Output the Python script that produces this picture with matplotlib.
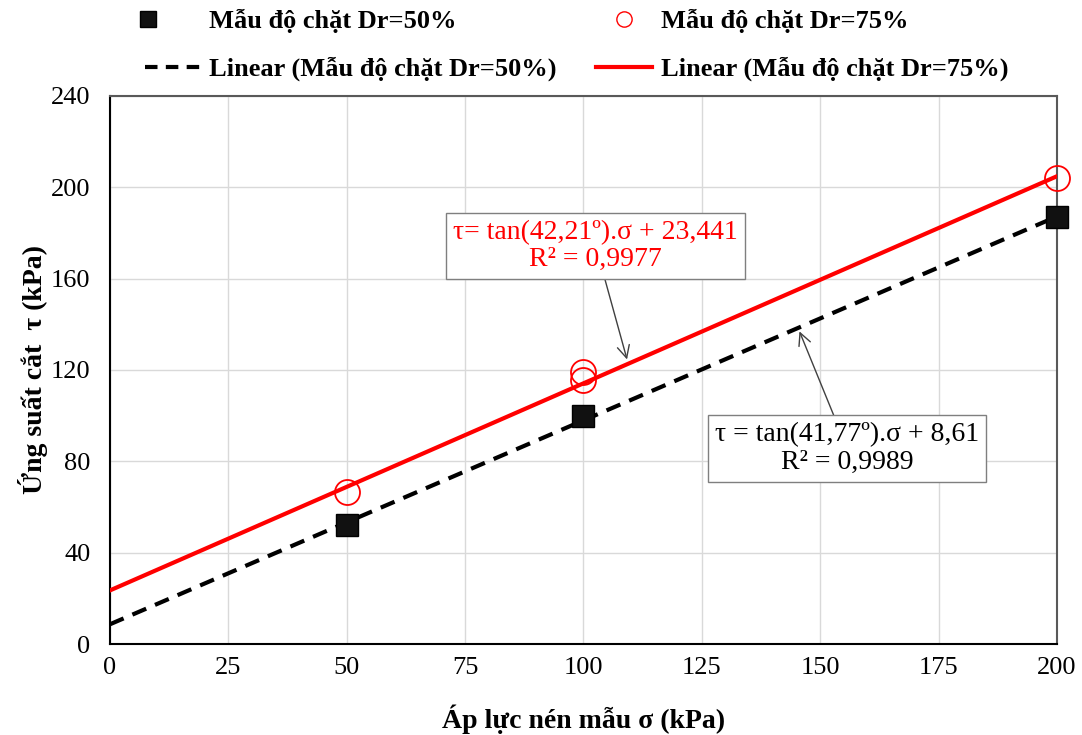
import numpy as np
import matplotlib
matplotlib.use("Agg")
import matplotlib.pyplot as plt
from matplotlib.lines import Line2D
from matplotlib.legend_handler import HandlerLine2D

plt.rcParams['font.family'] = ['Liberation Serif', 'DejaVu Serif']

# measured points
sigma_50 = [50, 100, 200]
tau_50 = [52, 100, 187]
sigma_75 = [50, 100, 100, 200]
tau_75 = [66.5, 119, 115.5, 204]

# trend lines (angle in degrees, intercept)
fit_50 = (41.77, 8.61)
fit_75 = (42.21, 23.441)

x_ticks = [0, 25, 50, 75, 100, 125, 150, 175, 200]
y_ticks = [0, 40, 80, 120, 160, 200, 240]


# legend marker sitting at the left end of the handle box (like Excel does it)
# with numpoints=1 matplotlib puts the marker in the middle of xdata
class LeftMarker(HandlerLine2D):
    def get_xdata(self, legend, xdescent, ydescent, width, height, fontsize):
        xdata = np.array([-xdescent, -xdescent + 0.12 * width])
        return xdata, xdata


fig = plt.figure(figsize=(10.82, 7.35), dpi=100)
ax = fig.add_axes([0.1015, 0.1238, 0.8755, 0.7457])

xs = np.array([0, 200])
ax.plot(xs, np.tan(np.radians(fit_50[0])) * xs + fit_50[1], color='black',
        lw=3, ls=(0, (3.6, 2.3)), zorder=3)
ax.plot(xs, np.tan(np.radians(fit_75[0])) * xs + fit_75[1], color='#ff0000',
        lw=3, zorder=3)
ax.plot(sigma_50, tau_50, ls='none', marker='s', ms=16, mfc='#111111',
        mec='black', zorder=4, clip_on=False)
ax.plot(sigma_75, tau_75, ls='none', marker='o', ms=18, mfc='none',
        mec='#ff0000', mew=1.3, zorder=4, clip_on=False)

ax.set_xlim(0, 200)
ax.set_ylim(0, 240)
ax.set_xticks(x_ticks)
ax.set_yticks(y_ticks)
ax.tick_params(axis='both', labelsize=19, length=0)
ax.tick_params(axis='x', pad=9)
ax.tick_params(axis='y', pad=14)
ax.grid(True, color='#d9d9d9', lw=1)
ax.set_axisbelow(True)
for s in ['top', 'right']:
    ax.spines[s].set_color('#595959')
    ax.spines[s].set_linewidth(1.5)
for s in ['left', 'bottom']:
    ax.spines[s].set_color('black')
    ax.spines[s].set_linewidth(1.5)

ax.set_xlabel('Áp lực nén mẫu σ (kPa)', fontsize=20, fontweight='bold', labelpad=19)
ax.set_ylabel('Ứng suất cắt  τ (kPa)', fontsize=20, fontweight='bold', labelpad=2)

box = dict(boxstyle='square,pad=0.25', fc='white', ec='#7f7f7f', lw=1)
ax.annotate('τ= tan(42,21º).σ + 23,441\nR² = 0,9977', xy=(109.2, 124.6),
            xytext=(102.6, 174.2), ha='center', va='center', color='#ff0000',
            fontsize=20, bbox=box, linespacing=1.12,
            arrowprops=dict(arrowstyle='->', color='#404040', lw=1,
                            shrinkA=0, shrinkB=0, mutation_scale=22))
ax.annotate('τ = tan(41,77º).σ + 8,61\nR² = 0,9989', xy=(145.6, 136.9),
            xytext=(155.7, 85.6), ha='center', va='center', color='black',
            fontsize=20, bbox=box, linespacing=1.12,
            arrowprops=dict(arrowstyle='->', color='#404040', lw=1,
                            shrinkA=0, shrinkB=0, mutation_scale=22))

sq = Line2D([], [], ls='none', marker='s', ms=12, mfc='#111111', mec='black')
circ = Line2D([], [], ls='none', marker='o', ms=11, mfc='none', mec='#ff0000')
dash = Line2D([], [], color='black', lw=3, ls=(0, (3, 2)))
solid = Line2D([], [], color='#ff0000', lw=3)
labels = ['Mẫu độ chặt Dr=50%', 'Linear (Mẫu độ chặt Dr=50%)',
          'Mẫu độ chặt Dr=75%', 'Linear (Mẫu độ chặt Dr=75%)']
fig.legend([sq, dash, circ, solid], labels, ncol=2,
           loc='upper center', bbox_to_anchor=(0.533, 1.02), frameon=False,
           prop={'size': 19, 'weight': 'bold'}, columnspacing=1.5,
           handlelength=2.1, handletextpad=0.35, labelspacing=0.9,
           numpoints=1, handler_map={sq: LeftMarker()})

fig.savefig('out.png', dpi=100)
